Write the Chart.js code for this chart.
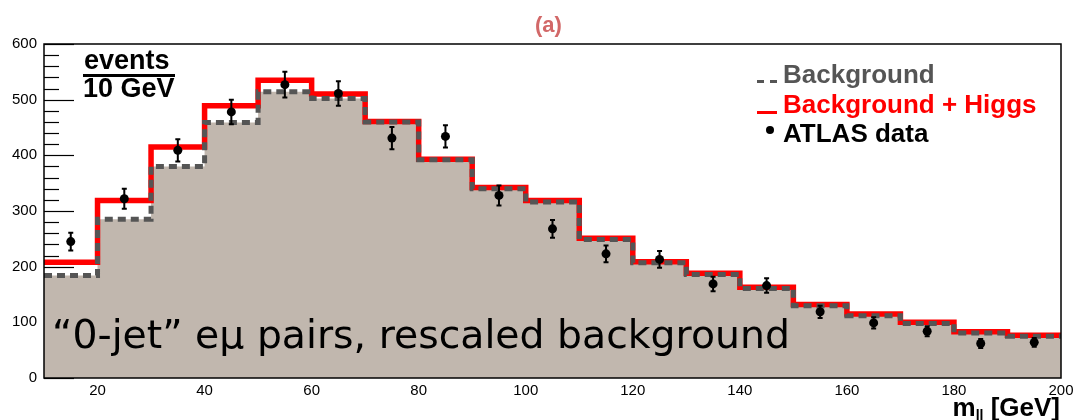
<!DOCTYPE html>
<html>
<head>
<meta charset="utf-8">
<script src="https://cdn.jsdelivr.net/npm/chart.js@4.4.0/dist/chart.umd.min.js"></script>
<style>
html, body { margin: 0; padding: 0; background: #fff; }
#wrap { position: relative; width: 1074px; height: 420px; font-family: "Liberation Sans", Arial, sans-serif; }
#histChart { position: absolute; left: 0; top: 0; }
.lbl { position: absolute; white-space: nowrap; font-weight: bold; line-height: 1; }
.mk { position: absolute; }
</style>
</head>
<body>
<div id="wrap">
  <canvas id="histChart" width="1074" height="420"></canvas>

  <div class="lbl" id="plotTitle" style="left:535px; top:14px; font-size:22px; color:#d26868;">(a)</div>

  <!-- events / 10 GeV -->
  <div class="lbl" style="left:84px; top:47px; font-size:27px; color:#000;">events</div>
  <div class="mk" style="left:83px; top:74px; width:92px; height:3px; background:#000;"></div>
  <div class="lbl" style="left:83px; top:75px; font-size:27px; color:#000;">10 GeV</div>

  <!-- legend -->
  <div class="mk" style="left:757px; top:80px; width:7px; height:3px; background:#555;"></div>
  <div class="mk" style="left:770px; top:80px; width:7px; height:3px; background:#555;"></div>
  <div class="lbl" style="left:783px; top:61px; font-size:26px; color:#555;">Background</div>
  <div class="mk" style="left:757px; top:111px; width:20px; height:3px; background:#ff0000;"></div>
  <div class="lbl" style="left:783px; top:91px; font-size:26px; color:#ff0000;">Background + Higgs</div>
  <div class="mk" style="left:766px; top:126px; width:8px; height:8px; border-radius:50%; background:#000;"></div>
  <div class="lbl" style="left:783px; top:120px; font-size:26px; color:#000;">ATLAS data</div>

  <!-- caption inside the plot -->
  <div id="caption" class="lbl" style="left:52px; top:318px; font-size:36px; font-weight:normal; font-family:'DejaVu Sans', sans-serif; color:#000;">“0-jet” eμ pairs, rescaled background</div>

  <!-- x axis title -->
  <div class="lbl" style="right:14px; top:394px; font-size:26px; color:#000;">m<span style="font-size:14px; position:relative; top:4px;">ll</span> [GeV]</div>
</div>

<script>
//直方圖的分箱邊界 (GeV)
var binEdges = [10, 20, 30, 40, 50, 60, 70, 80, 90, 100, 110, 120, 130, 140, 150, 160, 170, 180, 190, 200];
//背景
var background = [184, 285, 380, 459, 514, 502, 460, 392, 340, 316, 249, 207, 186, 161, 130, 112, 98, 81, 75];
//背景 + Higgs
var bkgHiggs = [208, 319, 415, 489, 535, 510, 461, 393, 342, 319, 251, 209, 188, 163, 132, 115, 100, 83, 77];
//ATLAS 資料點
var dataX = [15, 25, 35, 45, 55, 65, 75, 85, 95, 105, 115, 125, 135, 145, 155, 165, 175, 185, 195];
var dataY = [245, 322, 409, 478, 527, 511, 431, 434, 328, 268, 223, 213, 169, 166, 119, 99, 84, 62, 64];
var dataErr = [16, 18, 20, 22, 23, 22, 20, 20, 18, 16, 15, 15, 13, 13, 11, 10, 9, 8, 8];
//座標軸刻度
var xTicks = [20, 40, 60, 80, 100, 120, 140, 160, 180, 200];
var yTicks = [0, 100, 200, 300, 400, 500, 600];

//把分箱數值轉成階梯線的點
function stepPoints(vals) {
    var pts = vals.map(function (v, i) { return { x: binEdges[i], y: v }; });
    pts.push({ x: binEdges[vals.length], y: vals[vals.length - 1] });
    return pts;
}

//字幕寬度對齊
var cap = document.getElementById('caption');
var capW = cap.getBoundingClientRect().width;
var capFs = 36 * 738 / capW;
cap.style.fontSize = capFs + 'px';
cap.style.top = (348 - 0.846 * capFs) + 'px';

//y 軸內側刻度、誤差棒、外框
const histExtras = {
    id: 'histExtras',
    beforeDraw: function (chart) {
        const ctx = chart.ctx;
        const y = chart.scales.y;
        const left = chart.chartArea.left;
        ctx.save();
        ctx.strokeStyle = '#000';
        ctx.lineWidth = 1.2;
        for (var v = 0; v <= 600; v += 20) {
            const py = Math.round(y.getPixelForValue(v)) + 0.5;
            const len = (v % 100 === 0) ? 30 : 15;
            ctx.beginPath();
            ctx.moveTo(left, py);
            ctx.lineTo(left + len, py);
            ctx.stroke();
        }
        ctx.restore();
    },
    afterDatasetsDraw: function (chart) {
        const ctx = chart.ctx;
        const x = chart.scales.x;
        const y = chart.scales.y;
        ctx.save();
        ctx.strokeStyle = '#000';
        ctx.lineWidth = 2;
        for (var i = 0; i < dataX.length; i++) {
            const px = x.getPixelForValue(dataX[i]);
            const top = y.getPixelForValue(dataY[i] + dataErr[i]);
            const bot = y.getPixelForValue(dataY[i] - dataErr[i]);
            ctx.beginPath();
            ctx.moveTo(px, top); ctx.lineTo(px, bot);
            ctx.moveTo(px - 2.5, top); ctx.lineTo(px + 2.5, top);
            ctx.moveTo(px - 2.5, bot); ctx.lineTo(px + 2.5, bot);
            ctx.stroke();
        }
        ctx.restore();
    },
    afterDraw: function (chart) {
        const ctx = chart.ctx;
        const a = chart.chartArea;
        ctx.save();
        ctx.strokeStyle = '#000';
        ctx.lineWidth = 1.5;
        ctx.strokeRect(a.left, a.top, a.right - a.left, a.bottom - a.top);
        ctx.restore();
    }
};

const ctx = document.getElementById('histChart');
new Chart(ctx, {
    type: 'line',
    data: {
        datasets: [{
            label: 'ATLAS data',
            data: dataX.map(function (v, i) { return { x: v, y: dataY[i] }; }),
            showLine: false,
            pointRadius: 4.5,
            pointBackgroundColor: '#000',
            pointBorderWidth: 0,
            order: 0
        }, {
            label: 'Background',
            data: stepPoints(background),
            stepped: 'before',
            borderColor: '#555555',
            borderWidth: 5,
            borderDash: [8, 5],
            pointRadius: 0,
            fill: 'origin',
            backgroundColor: '#c1b7ae',
            order: 1
        }, {
            label: 'Background + Higgs',
            data: stepPoints(bkgHiggs),
            stepped: 'before',
            borderColor: '#ff0000',
            borderWidth: 5.5,
            pointRadius: 0,
            fill: false,
            order: 2
        }]
    },
    options: {
        responsive: false,
        animation: false,
        devicePixelRatio: 1,
        layout: { padding: { left: 0, right: 13, top: 44, bottom: 0 } },
        plugins: {
            legend: { display: false },
            tooltip: { enabled: false },
            filler: { drawTime: 'beforeDatasetsDraw' }
        },
        scales: {
            x: {
                type: 'linear',
                min: 10,
                max: 200,
                grid: { display: false, drawTicks: false },
                border: { display: false },
                afterBuildTicks: function (axis) { axis.ticks = xTicks.map(function (v) { return { value: v }; }); },
                afterFit: function (axis) { axis.height = 42; axis.paddingLeft = 0; axis.paddingRight = 0; },
                ticks: { padding: 4, color: '#000', font: { size: 15, family: 'Liberation Sans' }, maxRotation: 0 }
            },
            y: {
                min: 0,
                max: 600,
                grid: { display: false, drawTicks: false },
                border: { display: false },
                afterBuildTicks: function (axis) { axis.ticks = yTicks.map(function (v) { return { value: v }; }); },
                afterFit: function (axis) { axis.width = 44; },
                ticks: { padding: 7, color: '#000', font: { size: 15, family: 'Liberation Sans' } }
            }
        }
    },
    plugins: [histExtras]
});
</script>
</body>
</html>
